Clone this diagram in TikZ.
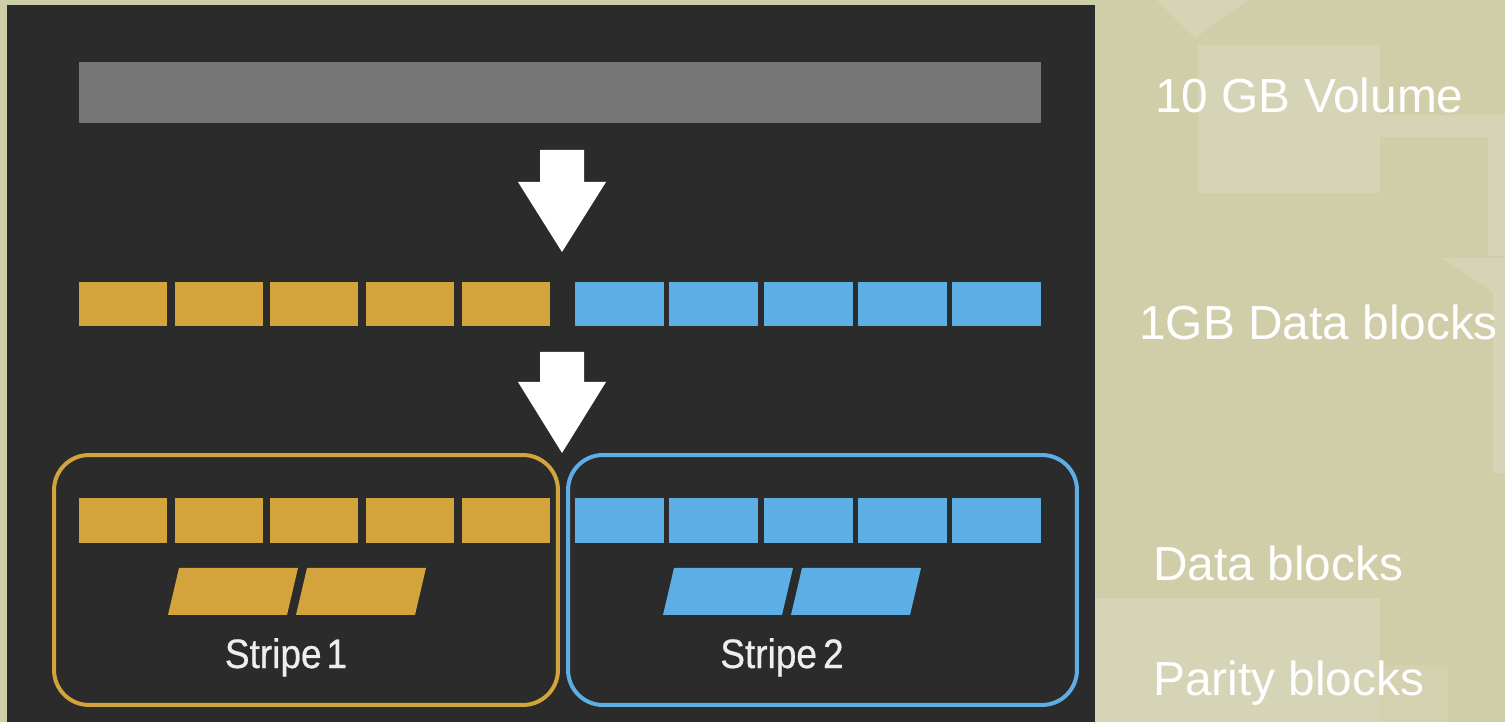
\documentclass[tikz,border=0pt]{standalone}
\usepackage{fontspec}
\setmainfont{Liberation Sans}
\newfontfamily\stripefont[FakeStretch=0.9,FakeBold=0.6]{Liberation Sans}
\definecolor{tanbg}{HTML}{D0CDA9}
\definecolor{tanlight}{HTML}{D6D4B6}
\definecolor{tanmid}{HTML}{D3D1B0}
\definecolor{panel}{HTML}{2B2B2B}
\definecolor{volgray}{HTML}{767676}
\definecolor{amber}{HTML}{D4A43C}
\definecolor{sky}{HTML}{5EAEE6}
\definecolor{labelgray}{HTML}{EEEEEE}
\begin{document}
\begin{tikzpicture}[x=0.02cm,y=-0.02cm,
  volbar/.style={fill=volgray,inner sep=0pt,minimum width=19.26cm,minimum height=1.22cm},
  blk/.style={inner sep=0pt,minimum width=1.77cm,minimum height=0.89cm},
  ablk/.style={blk,fill=amber},
  bblk/.style={blk,fill=sky},
  flowarrow/.style={fill=white},
  stripebox/.style={draw,line width=0.08cm,rounded corners=0.7cm,inner sep=0pt,
    minimum height=5.0cm},
  stripelabel/.style={text=labelgray,font=\stripefont\fontsize{23.4pt}{28pt}\selectfont,anchor=base,inner sep=0pt},
  sidelabel/.style={text=white,font=\fontsize{27.2pt}{32pt}\selectfont,anchor=base west,inner sep=0pt}]
\useasboundingbox (0,0) rectangle (1505,722);
% backdrop with its pale shapes
\fill[tanbg] (0,0) rectangle (1505,722);
\fill[tanlight] (1157,0) -- (1248,0) -- (1195,38) -- cycle;
\fill[tanlight] (1198,45) rectangle (1380,193);
\fill[tanlight] (1380,115) rectangle (1505,137);
\fill[tanlight] (1488,115) rectangle (1505,256);
\fill[tanlight] (1442,258) -- (1505,258) -- (1505,300) -- cycle;
\fill[tanlight] (1493,258) rectangle (1505,473);
\fill[tanlight] (1095,598) rectangle (1380,722);
\fill[tanmid] (1380,665) rectangle (1448,722);
% dark slide panel
\fill[panel] (7,5) rectangle (1095,722);

% the whole volume
\node[volbar] (vol) at (560,92.5) {};

% first arrow
\fill[flowarrow] (540,150) -- (584,150) -- (584,182) -- (606,182) -- (562,252)
  -- (518,182) -- (540,182) -- cycle;

% 1 GB data blocks
\foreach \i/\cx in {1/123,2/219,3/314,4/410,5/506}
  \node[ablk] (ra\i) at (\cx,304) {};
\foreach \i/\cx in {1/619.5,2/713.5,3/808.5,4/902.5,5/996.5}
  \node[bblk] (rb\i) at (\cx,304) {};

% second arrow
\fill[flowarrow] (540,352) -- (584,352) -- (584,382) -- (606,382) -- (562,453)
  -- (518,382) -- (540,382) -- cycle;

% stripe frames
\node[stripebox,draw=amber,minimum width=10.08cm] (s1) at (306,580) {};
\node[stripebox,draw=sky,minimum width=10.18cm] (s2) at (822.5,580) {};

% data blocks inside the stripes
\foreach \i/\cx in {1/123,2/219,3/314,4/410,5/506}
  \node[ablk] (sa\i) at (\cx,520.5) {};
\foreach \i/\cx in {1/619.5,2/713.5,3/808.5,4/902.5,5/996.5}
  \node[bblk] (sb\i) at (\cx,520.5) {};

% parity blocks
\fill[amber] (168,615) -- (287,615) -- (298,568) -- (179,568) -- cycle;
\fill[amber] (296,615) -- (415,615) -- (426,568) -- (307,568) -- cycle;
\fill[sky] (663,615) -- (782,615) -- (793,568) -- (674,568) -- cycle;
\fill[sky] (791,615) -- (910,615) -- (921,568) -- (802,568) -- cycle;

% stripe names
\node[stripelabel] (s1lab) at (286,668) {Stripe\hspace{0.12em}1};
\node[stripelabel] (s2lab) at (782,668) {Stripe\hspace{0.15em}2};

% legend on the right
\node[sidelabel] (l1) at (1155,113) {10 GB Volume};
\node[sidelabel] (l2) at (1139,340) {1GB Data blocks};
\node[sidelabel] (l3) at (1153,581) {Data blocks};
\node[sidelabel] (l4) at (1153,696) {Parity blocks};
\end{tikzpicture}
\end{document}
